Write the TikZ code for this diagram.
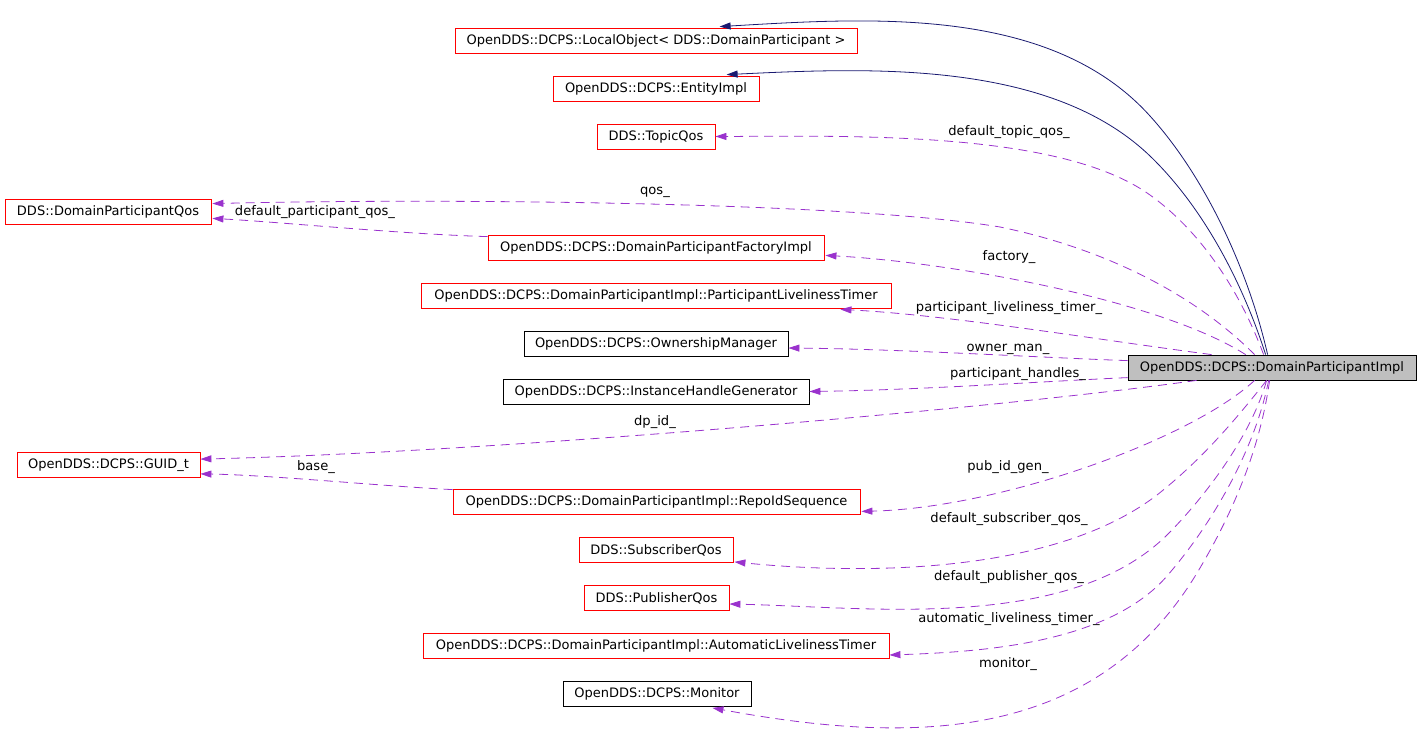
\documentclass[tikz,border=0pt]{standalone}
\usepackage{fontspec}
\setmainfont{DejaVu Sans}
\usetikzlibrary{arrows.meta,calc}
\definecolor{midblue}{HTML}{191970}
\definecolor{orchid}{HTML}{9A32CD}
\definecolor{boxgray}{HTML}{BFBFBF}
\tikzset{
  cls/.style={draw=red, line width=0.8pt, minimum height=25pt, inner sep=0pt, font=\fontsize{13}{15}\selectfont},
  clsb/.style={cls, draw=black},
  mainbox/.style={cls, draw=black, fill=boxgray},
  inh/.style={draw=midblue, line width=0.8pt, -{Triangle[length=11pt,width=7pt]}},
  use/.style={draw=orchid, line width=0.8pt, dash pattern=on 9pt off 6pt, -{Triangle[length=11pt,width=7pt]}},
  lbl/.style={inner sep=0pt, font=\fontsize{13.1}{15}\selectfont}
}
\begin{document}
\begin{tikzpicture}[x=1pt,y=-1pt]
\useasboundingbox (0,0) rectangle (1421,752);
% nodes
\node[cls, minimum width=402pt] (lo) at (656,40.5) {OpenDDS::DCPS::LocalObject< DDS::DomainParticipant >};
\node[cls, minimum width=206pt] (ent) at (656,88.5) {OpenDDS::DCPS::EntityImpl};
\node[cls, minimum width=118pt] (topic) at (656,136.5) {DDS::TopicQos};
\node[cls, minimum width=206pt] (dpqos) at (108,211.5) {DDS::DomainParticipantQos};
\node[cls, minimum width=336pt] (fact) at (656,247.5) {OpenDDS::DCPS::DomainParticipantFactoryImpl};
\node[cls, minimum width=470pt] (plt) at (656,295.5) {OpenDDS::DCPS::DomainParticipantImpl::ParticipantLivelinessTimer};
\node[clsb, minimum width=264pt] (own) at (656,343.5) {OpenDDS::DCPS::OwnershipManager};
\node[clsb, minimum width=306pt] (ihg) at (656,391.5) {OpenDDS::DCPS::InstanceHandleGenerator};
\node[cls, minimum width=183pt] (guid) at (108.5,465) {OpenDDS::DCPS::GUID\_t};
\node[cls, minimum width=407pt] (repo) at (656.5,501.5) {OpenDDS::DCPS::DomainParticipantImpl::RepoIdSequence};
\node[cls, minimum width=154pt] (sub) at (656,550) {DDS::SubscriberQos};
\node[cls, minimum width=145pt] (pub) at (656.5,598) {DDS::PublisherQos};
\node[cls, minimum width=466pt] (auto) at (656,646) {OpenDDS::DCPS::DomainParticipantImpl::AutomaticLivelinessTimer};
\node[clsb, minimum width=188pt] (mon) at (657,694) {OpenDDS::DCPS::Monitor};
\node[mainbox, minimum width=288pt] (main) at (1272,367.5) {OpenDDS::DCPS::DomainParticipantImpl};
% inheritance
\draw[inh] ($(main.north west)+(140,0)$) .. controls (1249,273) and (1207,179) .. (1150,116)
  .. controls (1050,5) and (868,18) .. ($(lo.north west)+(265,-1)$);
\draw[inh] ($(main.north west)+(138,0)$) .. controls (1243,284) and (1204,208) .. (1150,156)
  .. controls (1049,59) and (866,68) .. ($(ent.north west)+(174,-1)$);
% usage
\draw[use] ($(main.north west)+(136,0)$) .. controls (1241,294) and (1203,233) .. (1150,195)
  .. controls (1061,131) and (855,136) .. (topic.east);
\draw[use] ($(main.north west)+(127,0)$) .. controls (1185,285) and (1088,245) .. (1000,227)
  .. controls (850,202) and (450,198) .. ($(dpqos.north east)+(1,5)$);
\draw[use] ($(fact.north west)+(0,2)$) .. controls (400,234) and (280,222) .. ($(dpqos.south east)+(1,-6)$);
\draw[use] ($(main.north west)+(118,0)$) .. controls (1160,300) and (950,262) .. ($(fact.south east)+(1,-5)$);
\draw[use] ($(main.north west)+(84,0)$) .. controls (1100,340) and (950,315) .. ($(plt.south east)+(-51,1)$);
\draw[use] ($(main.north west)+(0,6)$) .. controls (1050,358) and (900,349) .. ($(own.east)+(0,4.5)$);
\draw[use] ($(main.north west)+(0,23)$) .. controls (1050,381) and (920,390) .. (ihg.east);
\draw[use] ($(main.south west)+(69,0)$) .. controls (1000,408) and (500,452) .. ($(guid.north east)+(0,7)$);
\draw[use] ($(repo.north west)+(0,1)$) .. controls (380,486) and (270,475) .. ($(guid.south east)+(0,-4)$);
\draw[use] ($(main.south west)+(127,0)$) .. controls (1190,440) and (1000,508) .. ($(repo.south east)+(1,-3)$);
\draw[use] ($(main.south west)+(139,0)$) .. controls (1233,423) and (1200,461) .. (1157,495)
  .. controls (1054,574) and (865,575) .. ($(sub.south east)+(1,-1)$);
\draw[use] ($(main.south west)+(139,0)$) .. controls (1252,433) and (1209,492) .. (1170,532)
  .. controls (1072,633) and (869,607) .. ($(pub.east)+(0,6)$);
\draw[use] ($(main.south west)+(141,0)$) .. controls (1255,449) and (1213,523) .. (1167,576)
  .. controls (1108,644) and (980,652) .. ($(auto.east)+(0,9)$);
\draw[use] ($(main.south west)+(142,0)$) .. controls (1260,449) and (1233,513) .. (1197,573)
  .. controls (1093,745) and (908,744) .. ($(mon.south east)+(-39,1)$);
% labels
\node[lbl] (l1) at (1009,132) {default\_topic\_qos\_};
\node[lbl] (l2) at (655,192) {qos\_};
\node[lbl] (l3) at (315,212) {default\_participant\_qos\_};
\node[lbl] (l4) at (1009,257) {factory\_};
\node[lbl] (l5) at (1009,308) {participant\_liveliness\_timer\_};
\node[lbl] (l6) at (1008,349) {owner\_man\_};
\node[lbl] (l7) at (1018,374) {participant\_handles\_};
\node[lbl] (l8) at (655,422) {dp\_id\_};
\node[lbl] (l9) at (316,467) {base\_};
\node[lbl] (l10) at (1008,467) {pub\_id\_gen\_};
\node[lbl] (l11) at (1009,519) {default\_subscriber\_qos\_};
\node[lbl] (l12) at (1009,577) {default\_publisher\_qos\_};
\node[lbl] (l13) at (1009,619) {automatic\_liveliness\_timer\_};
\node[lbl] (l14) at (1008,664) {monitor\_};
\end{tikzpicture}
\end{document}
